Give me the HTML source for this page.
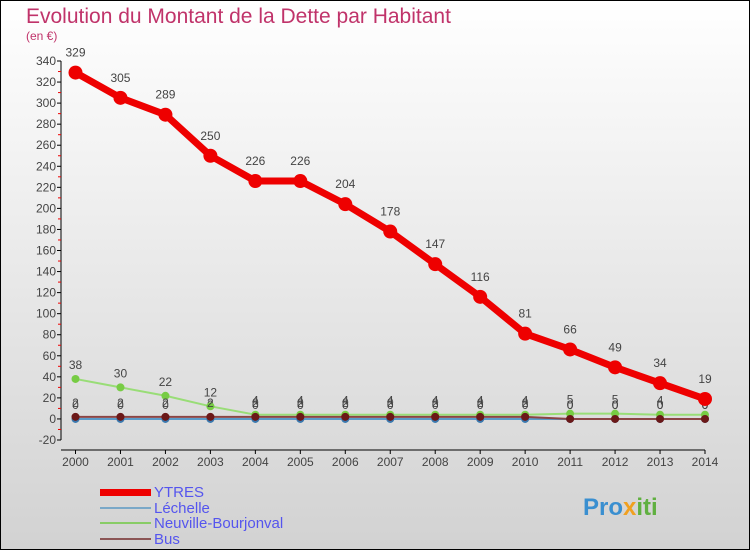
<!DOCTYPE html>
<html><head><meta charset="utf-8"><style>
body{margin:0}
svg{display:block;font-family:"Liberation Sans",sans-serif}
</style></head><body>
<svg id="c" width="750" height="550" viewBox="0 0 750 550" xmlns="http://www.w3.org/2000/svg">
<defs><linearGradient id="bg" x1="0" y1="0" x2="0" y2="1"><stop offset="0" stop-color="#ffffff"/><stop offset="1" stop-color="#d2d2d2"/></linearGradient></defs>
<rect x="0.5" y="0.5" width="749" height="549" fill="url(#bg)" stroke="#000"/>
<text x="26" y="23" font-size="21" fill="#c0336a">Evolution du Montant de la Dette par Habitant</text>
<text x="26" y="40" font-size="12" fill="#c0336a">(en €)</text>
<g id="axes"></g><g id="series"></g>
<g>
<rect x="100" y="489" width="51" height="7" fill="#e00"/>
<text x="154" y="497" font-size="15" fill="#5555ee">YTRES</text>
<rect x="100" y="507" width="51" height="2" fill="#7aa8c8"/>
<text x="154" y="513" font-size="15" fill="#5555ee">Léchelle</text>
<rect x="100" y="522" width="51" height="2" fill="#88cc66"/>
<text x="154" y="528" font-size="15" fill="#5555ee">Neuville-Bourjonval</text>
<rect x="100" y="538" width="51" height="2" fill="#8b5555"/>
<text x="154" y="544" font-size="15" fill="#5555ee">Bus</text>
</g>
<text x="583" y="515" font-size="24" font-weight="bold" fill="#3a8fd0">Pro<tspan fill="#f0a020">x</tspan><tspan fill="#60b040">iti</tspan></text>
</svg>
<script>
const years=[2000,2001,2002,2003,2004,2005,2006,2007,2008,2009,2010,2011,2012,2013,2014];
const ytres=[329,305,289,250,226,226,204,178,147,116,81,66,49,34,19];
const lechelle=[0,0,0,0,0,0,0,0,0,0,0,0,0,0,0];
const neuville=[38,30,22,12,4,4,4,4,4,4,4,5,5,4,4];
const bus=[2,2,2,2,2,2,2,2,2,2,2,0,0,0,0];
const yTicks=[-20,0,20,40,60,80,100,120,140,160,180,200,220,240,260,280,300,320,340];
const NS="http://www.w3.org/2000/svg";
const x0=75.5,x1=705,yMin=-20,yMax=340,py0=440,py1=61;
const X=i=>x0+(x1-x0)*i/(years.length-1);
const Y=v=>py0-(v-yMin)*(py0-py1)/(yMax-yMin);
function mk(t,a,p){const e=document.createElementNS(NS,t);for(const k in a)e.setAttribute(k,a[k]);p.appendChild(e);return e;}
const ax=document.getElementById('axes'),sg=document.getElementById('series');
let l=mk('line',{x1:61,y1:Y(yMax),x2:61,y2:py0,stroke:'#000'},ax);


l=mk('line',{x1:61,y1:450,x2:x1,y2:450,stroke:'#000'},ax);


yTicks.forEach((v,i)=>{
 mk('line',{x1:57,x2:61,y1:Y(v),y2:Y(v),stroke:'#000'},ax);
 if(i<yTicks.length-1) mk('line',{x1:58,x2:61,y1:Y(v+10),y2:Y(v+10),stroke:'#e00'},ax);
 const t=mk('text',{x:56,y:Y(v)+4,'font-size':12,'text-anchor':'end',fill:'#444'},ax);
 
 
 t.textContent=v;
});
years.forEach((yr,i)=>{
 mk('line',{x1:X(i),x2:X(i),y1:450,y2:454,stroke:'#000'},ax);
 const t=mk('text',{x:X(i),y:466,'font-size':12,'text-anchor':'middle',fill:'#444'},ax);
 
 
 t.textContent=yr;
});
function series(vals,name,color,w,r,dot,off){
 const g=mk('g',{},sg);
 
 
 mk('polyline',{points:vals.map((v,i)=>X(i)+','+Y(v)).join(' '),fill:'none',stroke:color,'stroke-width':w,'stroke-linejoin':'round'},g);
 vals.forEach((v,i)=>{
  const c=mk('circle',{cx:X(i),cy:Y(v),r:r,fill:dot},g);
  
  
  const t=mk('text',{x:X(i),y:Y(v)-off,'font-size':12,'text-anchor':'middle',fill:'#444'},g);
  
  
  t.textContent=v;
 });
}
series(lechelle,'lechelle','#5a9ac8',2,4,'#3a7ab0',10);
series(neuville,'neuville','#99dd77',2,4,'#77cc44',10);
series(bus,'bus','#8b4444',2,4,'#6b1818',10);
series(ytres,'ytres','#ee0000',7,7,'#ee0000',16);
</script>
</body></html>
